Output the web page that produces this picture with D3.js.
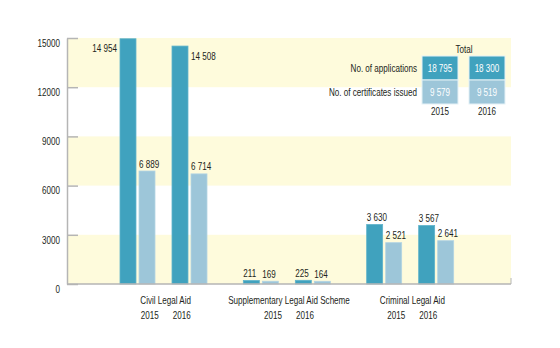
<!DOCTYPE html>
<html>
<head>
<meta charset="utf-8">
<script src="https://cdn.jsdelivr.net/npm/d3@7"></script>
<style>
    body { margin: 0; background: #fff; }
    svg text { font-family: "Liberation Sans Narrow", "Liberation Sans", Arial, sans-serif; fill: #231f20; }
</style>
</head>
<body>
<div id="chart"></div>
<script>
// Chart data
const categories = ['Civil Legal Aid', 'Supplementary Legal Aid Scheme', 'Criminal Legal Aid'];
const years = ['2015', '2016'];
const applications = [[14954, 14508], [211, 225], [3630, 3567]];
const certificates = [[6889, 6714], [169, 164], [2521, 2641]];
const totalApplications = [18795, 18300];
const totalCertificates = [9579, 9519];
const yTicks = [0, 3000, 6000, 9000, 12000, 15000];
const rowLabels = ['No. of applications', 'No.  of certificates issued'];

const colors = { apps: '#40a2be', certs: '#9dc6d9', band: '#fefbdc', axis: '#b5b5b5' };
const fontSize = '10px';

const fmt = d3.formatLocale({ decimal: '.', thousands: ' ', grouping: [3], currency: ['', ''] }).format(',');

function draw() {
    const width = 560, height = 348;
    const plot = { left: 67, right: 511, top: 38, bottom: 284 };

    const svg = d3.select('#chart').append('svg')
        .attr('width', width)
        .attr('height', height);

    const y = d3.scaleLinear().domain([0, 15000]).range([plot.bottom, plot.top]);

    // Alternating yellow bands
    const bandPairs = d3.pairs(yTicks).filter((d, i) => i % 2 === 0);
    svg.append('g').selectAll('rect')
        .data(bandPairs)
        .join('rect')
        .attr('x', plot.left)
        .attr('width', plot.right - plot.left)
        .attr('y', d => y(d[1]))
        .attr('height', d => y(d[0]) - y(d[1]))
        .attr('fill', colors.band);

    // Scales for bars
    const x0 = d3.scaleBand().domain(categories).range([102, 472]);
    const x1 = d3.scaleBand().domain(years).range([18, 122]);
    const x2 = d3.scaleBand().domain(['apps', 'certs']).range([0, 35]).paddingInner(0.16);

    // Y axis
    const yAxis = d3.axisLeft(y)
        .tickValues(yTicks)
        .tickFormat(d => d)
        .tickSizeInner(-11)
        .tickSizeOuter(0)
        .tickPadding(7);

    const ax = svg.append('g')
        .attr('transform', `translate(${plot.left},0)`)
        .call(yAxis);
    ax.select('.domain').attr('stroke', colors.axis).attr('stroke-width', 1.5);
    ax.selectAll('.tick line').attr('stroke', colors.axis).attr('stroke-width', 1.5);
    ax.selectAll('.tick text')
        .style('font-size', fontSize)
        .attr('fill', '#231f20')
        .attr('dy', 8.3);

    // Bars
    const rows = [];
    categories.forEach((c, ci) => {
        years.forEach((yr, yi) => {
            rows.push({ cat: c, year: yr, yi: yi, key: 'apps', value: applications[ci][yi] });
            rows.push({ cat: c, year: yr, yi: yi, key: 'certs', value: certificates[ci][yi] });
        });
    });
    const bx = d => x0(d.cat) + x1(d.year) + x2(d.key);

    svg.append('g').selectAll('rect')
        .data(rows)
        .join('rect')
        .attr('x', bx)
        .attr('y', d => y(d.value))
        .attr('width', x2.bandwidth())
        .attr('height', d => y(0) - y(d.value))
        .attr('fill', d => colors[d.key])
        .attr('stroke', d => d.key === 'apps' ? '#5fb3cb' : '#b3d4e3')
        .attr('stroke-width', 0.8);

    // Value labels
    svg.append('g').selectAll('text')
        .data(rows)
        .join('text')
        .style('font-size', fontSize)
        .text(d => fmt(d.value))
        .each(function (d) {
            const t = d3.select(this);
            if (d.value > 12000) {
                // tall bars: label beside the bar
                t.attr('y', y(d.value) + 13.5)
                 .attr('x', d.yi === 0 ? bx(d) - 3 : bx(d) + x2.bandwidth() + 3)
                 .attr('text-anchor', d.yi === 0 ? 'end' : 'start');
            } else {
                t.attr('y', y(d.value) - 3.5)
                 .attr('x', bx(d))
                 .attr('text-anchor', 'start');
            }
        });

    // Bottom axis line
    svg.append('line')
        .attr('x1', plot.left).attr('x2', plot.right)
        .attr('y1', y(0)).attr('y2', y(0))
        .attr('stroke', colors.axis).attr('stroke-width', 1.5);
    svg.append('line')
        .attr('x1', plot.right).attr('x2', plot.right)
        .attr('y1', y(0)).attr('y2', y(0) - 6)
        .attr('stroke', colors.axis).attr('stroke-width', 1);

    // Category + year labels
    const yl = d3.scalePoint().domain(years).range([-16, 16]);
    const cg = svg.append('g').selectAll('g')
        .data(categories)
        .join('g')
        .attr('transform', d => `translate(${x0(d) + x0.bandwidth() / 2 + 2},0)`);
    cg.append('text')
        .attr('y', 304)
        .attr('text-anchor', 'middle')
        .style('font-size', fontSize)
        .text(d => d);
    cg.selectAll('.yr')
        .data(years)
        .join('text')
        .attr('class', 'yr')
        .attr('x', d => yl(d))
        .attr('y', 319)
        .attr('text-anchor', 'middle')
        .style('font-size', fontSize)
        .text(d => d);

    // Totals box
    const lx = d3.scaleBand().domain(years).range([422, 505]).paddingInner(0.234);
    const rowTop = 56, rowH = 24;
    const lg = svg.append('g');
    lg.append('text')
        .attr('x', (lx.range()[0] + lx.range()[1]) / 2 + 0.5)
        .attr('y', 53)
        .attr('text-anchor', 'middle')
        .style('font-size', fontSize)
        .text('Total');

    const totals = [totalApplications, totalCertificates];
    totals.forEach((vals, ri) => {
        lg.selectAll('.box' + ri)
            .data(years)
            .join('rect')
            .attr('class', 'box' + ri)
            .attr('x', d => lx(d))
            .attr('y', rowTop + ri * rowH)
            .attr('width', lx.bandwidth())
            .attr('height', rowH)
            .attr('fill', ri === 0 ? colors.apps : colors.certs)
            .attr('stroke', '#e4f1f6')
            .attr('stroke-width', 1);
        lg.selectAll('.val' + ri)
            .data(years)
            .join('text')
            .attr('class', 'val' + ri)
            .attr('x', d => lx(d) + lx.bandwidth() / 2)
            .attr('y', rowTop + ri * rowH + 16)
            .attr('text-anchor', 'middle')
            .style('font-size', fontSize)
            .style('fill', '#fff')
            .text((d, i) => fmt(vals[i]));
        lg.append('text')
            .attr('x', 417)
            .attr('y', rowTop + ri * rowH + 16)
            .attr('text-anchor', 'end')
            .style('font-size', fontSize)
            .text(rowLabels[ri]);
    });
    lg.selectAll('.lyr')
        .data(years)
        .join('text')
        .attr('class', 'lyr')
        .attr('x', d => lx(d) + lx.bandwidth() / 2)
        .attr('y', 115)
        .attr('text-anchor', 'middle')
        .style('font-size', fontSize)
        .text(d => d);

    // Condense text horizontally so it matches the narrow face of the original
    const probe = svg.append('text').style('font-size', fontSize).text('00000');
    const s = Math.min(1, 22.5 / probe.node().getComputedTextLength());
    probe.remove();
    svg.selectAll('text').each(function () {
        const x = +this.getAttribute('x') || 0;
        d3.select(this).attr('transform', `translate(${x * (1 - s)},0) scale(${s},1)`);
    });
}

document.addEventListener('DOMContentLoaded', draw);
</script>
</body>
</html>
